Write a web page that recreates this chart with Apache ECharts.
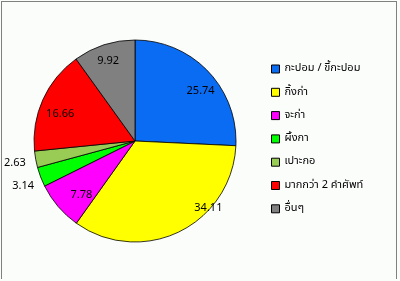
<!DOCTYPE html>
<html><head><meta charset="utf-8">
<script src="https://cdn.jsdelivr.net/npm/echarts@6/dist/echarts.min.js"></script>
<style>
html,body{margin:0;padding:0;background:#fbfdfb;}
#frame{position:absolute;left:1px;top:1px;width:396px;height:278px;border:1px solid #808080;border-bottom:none;box-sizing:border-box;}
#c{position:absolute;left:0;top:0;width:400px;height:281px;}
</style></head>
<body><div id="frame"></div><div id="c"></div>
<script>
const categories = ['กะปอม / ขี้กะปอม','กิ้งก่า','จะก่า','ผิ้งกา','เปาะกอ','มากกว่า 2 คำศัพท์','อื่นๆ'];
const values = [25.74, 34.11, 7.78, 3.14, 2.63, 16.66, 9.92];
const colors = ['#0a6cf2','#ffff00','#ff00ff','#00ff00','#99cc55','#ff0000','#808080'];
const outsideLabelIdx = [3, 4];

const font = 'Tahoma, "Noto Sans Thai", "Noto Sans", "DejaVu Sans", sans-serif';
const chart = echarts.init(document.getElementById('c'), null, {renderer:'canvas'});

// small label nudges (style only) to mimic the original label placement
const nudge = {0:[7,7], 1:[38,-5], 2:[8,2], 3:[6,7], 4:[3,3], 5:[-1,7], 6:[-2,-2]};

const mainData = categories.map((n,i)=>({
  name:n, value:values[i],
  itemStyle:{color:colors[i]},
  label:{show: outsideLabelIdx.includes(i)}
}));
const ringData = categories.map((n,i)=>({
  name:n, value:values[i],
  label:{show: !outsideLabelIdx.includes(i)}
}));
const layoutFn = p => { const d = nudge[p.dataIndex]; return d ? {dx:d[0], dy:d[1]} : {}; };

chart.setOption({
  animation:false,
  backgroundColor:'transparent',
  legend:{
    orient:'vertical', left:271, top:63.5, padding:0, itemWidth:8, itemHeight:8, itemGap:12.3,
    icon:'rect',
    itemStyle:{borderColor:'#000', borderWidth:1},
    textStyle:{fontSize:11, lineHeight:11, color:'#000', fontFamily:font},
    data:categories
  },
  series:[
    {
      type:'pie', center:[135,141], radius:[0,101], startAngle:90, clockwise:true,
      silent:true,
      itemStyle:{borderColor:'#000', borderWidth:0.8},
      label:{position:'outside', fontSize:11, color:'#000', fontFamily:font, formatter:'{c}', overflow:'none', width:40},
      labelLine:{show:false, length:8, length2:0},
      labelLayout: layoutFn,
      data:mainData
    },
    {
      type:'pie', center:[135,141], radius:[54,102], startAngle:90, clockwise:true,
      silent:true, legendHoverLink:false,
      itemStyle:{color:'rgba(0,0,0,0)', borderWidth:0},
      label:{position:'inside', fontSize:11, color:'#000', fontFamily:font, formatter:'{c}'},
      labelLine:{show:false},
      labelLayout: layoutFn,
      data:ringData
    }
  ]
});
</script></body></html>
